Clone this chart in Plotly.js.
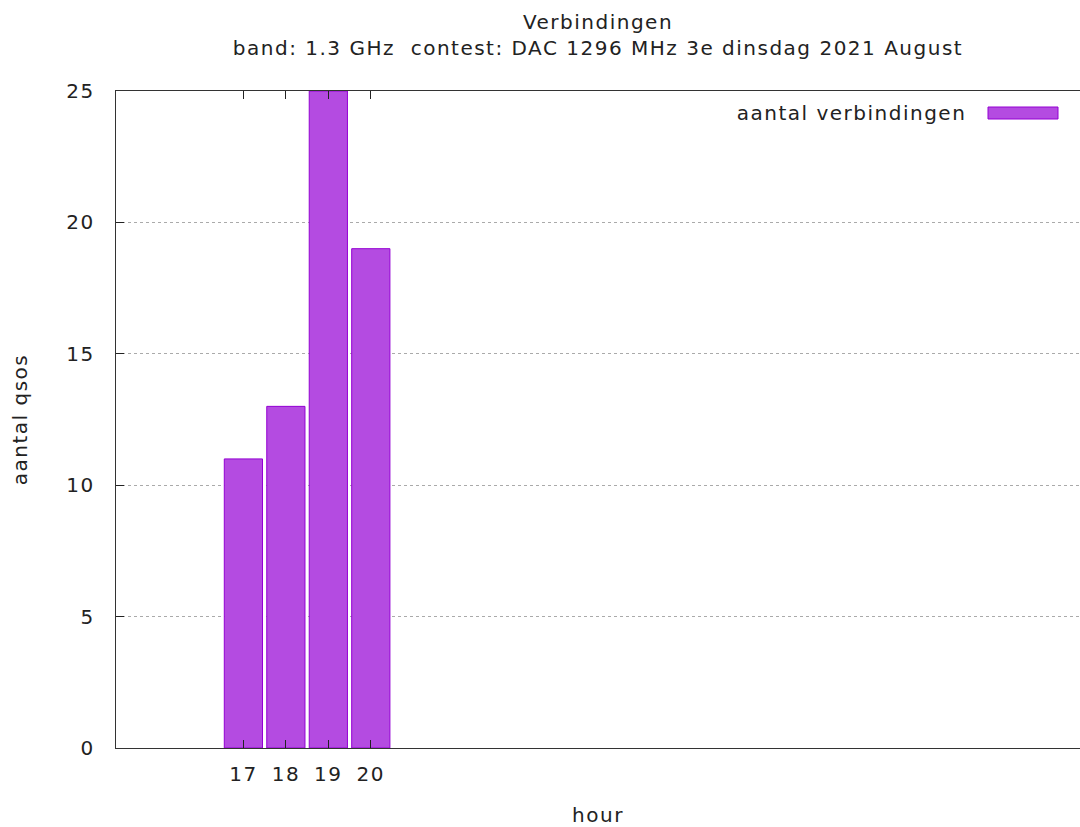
<!DOCTYPE html>
<html>
<head>
<meta charset="utf-8">
<script src="https://cdn.plot.ly/plotly-3.0.1.min.js"></script>
<style>html,body{margin:0;padding:0;background:#fff;}#chart{width:1080px;height:827px;}#chart text{letter-spacing:1.5px;}</style>
</head>
<body>
<div id="chart"></div>
<script>
const hours = [17, 18, 19, 20];
const qsos = [11, 13, 25, 19];
const seriesName = 'aantal verbindingen';
const chartTitle = 'Verbindingen<br>band: 1.3 GHz\u00a0\u00a0contest: DAC 1296 MHz 3e dinsdag 2021 August';
const xTitle = 'hour';
const yTitle = 'aantal qsos';
const yTicks = [0, 5, 10, 15, 20, 25];

const fam = 'DejaVu Sans, sans-serif';
const fs = 20;
const txt = '#222';
const fill = 'rgb(180,75,225)';
const edge = 'rgb(148,0,211)';

const trace = {
  type: 'bar', x: hours, y: qsos, name: seriesName, width: 0.9,
  marker: {color: fill, line: {color: edge, width: 1}},
  showlegend: false, hoverinfo: 'x+y'
};

const layout = {
  width: 1080, height: 827,
  margin: {l: 116, r: 0, t: 91, b: 79, pad: 0},
  paper_bgcolor: '#fff', plot_bgcolor: '#fff',
  font: {family: fam, size: fs, color: txt},
  title: {text: chartTitle, font: {family: fam, size: fs, color: txt},
          x: 0.5537, xanchor: 'center', y: (827 - 29) / 827, yanchor: 'bottom', yref: 'container'},
  xaxis: {
    range: [14, 36.7], tickvals: hours, ticktext: hours.map(String),
    ticks: 'inside', ticklen: 8, tickcolor: '#222', tickwidth: 1,
    showline: true, linecolor: '#333', linewidth: 1.3, mirror: 'ticks',
    showgrid: false, zeroline: false, ticklabelstandoff: 8,
    tickfont: {family: fam, size: fs, color: txt},
    title: {text: xTitle, font: {family: fam, size: fs, color: txt}, standoff: 24}
  },
  yaxis: {
    range: [0, 25], tickvals: yTicks,
    ticks: 'inside', ticklen: 8, tickcolor: '#222',
    showline: true, linecolor: '#333', linewidth: 1.3, mirror: false,
    showgrid: true, gridcolor: '#aaa', griddash: 'dot', gridwidth: 1,
    zeroline: false, ticklabelstandoff: 16,
    tickfont: {family: fam, size: fs, color: txt},
    title: {text: yTitle, font: {family: fam, size: fs, color: txt}, standoff: 36}
  },
  shapes: [
    {type: 'rect', xref: 'paper', yref: 'paper',
     x0: (988 - 116) / 964, x1: (1058 - 116) / 964,
     y0: (748 - 119) / 657, y1: (748 - 107) / 657,
     fillcolor: fill, line: {color: edge, width: 1}}
  ],
  annotations: [
    {text: seriesName, xref: 'paper', yref: 'paper',
     x: (954 - 116) / 964, y: (748 - 113) / 657, xanchor: 'right', yanchor: 'middle',
     showarrow: false, font: {family: fam, size: fs, color: txt}}
  ]
};

Plotly.newPlot('chart', [trace], layout, {displayModeBar: false, staticPlot: true});
</script>
</body>
</html>
